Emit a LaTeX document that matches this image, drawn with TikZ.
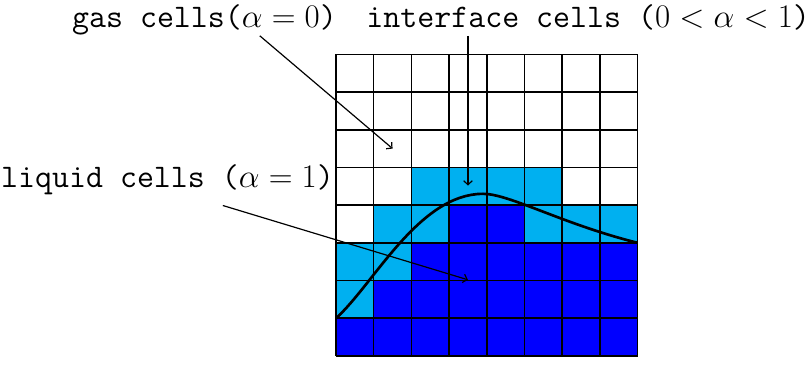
\documentclass[tikz,border=0pt]{standalone}
\usepackage{amsmath}
\usepackage{xcolor}
\usetikzlibrary{arrows.meta}
\definecolor{interfacecol}{RGB}{0,176,240}
\definecolor{liquidcol}{RGB}{0,0,255}

\begin{document}
\begin{tikzpicture}[
  lbl/.style={inner sep=0pt, font=\ttfamily\Huge},
  cellline/.style={draw, line width=1.2pt},
  arr/.style={-{Straight Barb[length=3pt,width=6.5pt]}, line width=0.9pt},
  surf/.style={line width=2pt}
]
\useasboundingbox (-8.91,-0.32) rectangle (12.57,9.44);
% interface and liquid cells
\foreach \x/\y in {2/4,3/4,4/4,5/4, 1/3,2/3,5/3,6/3,7/3, 0/2,1/2, 0/1}
  \fill[interfacecol] (\x,\y) rectangle ++(1,1);
\foreach \x/\y in {3/3,4/3, 2/2,3/2,4/2,5/2,6/2,7/2, 1/1,2/1,3/1,4/1,5/1,6/1,7/1,
                   0/0,1/0,2/0,3/0,4/0,5/0,6/0,7/0}
  \fill[liquidcol] (\x,\y) rectangle ++(1,1);
\draw[cellline] (0,0) grid (8,8);
% free surface
\draw[surf] (0,1) .. controls (1.0,1.9) and (2.2,4.3) .. (3.9,4.3)
                  .. controls (4.6,4.3) and (6.0,3.5) .. (8,3);
% labels
\node[lbl, anchor=base east] (gas) at (0.03,8.70) {gas cells($\alpha = 0$)};
\node[lbl, anchor=base west] (iface) at (0.80,8.70) {interface cells ($0 < \alpha < 1$)};
\node[lbl, anchor=base east] (liquid) at (-0.05,4.48) {liquid cells ($\alpha = 1$)};
\coordinate (gasstart) at (-2.02,8.49);
\coordinate (gasend) at (1.5,5.5);
\coordinate (ifacestart) at (3.5,8.49);
\coordinate (ifaceend) at (3.5,4.52);
\coordinate (liqstart) at (-3.0,3.99);
\coordinate (liqend) at (3.5,2.02);
\draw[arr] (gasstart) -- (gasend);
\draw[arr] (ifacestart) -- (ifaceend);
\draw[arr] (liqstart) -- (liqend);
\end{tikzpicture}
\end{document}
